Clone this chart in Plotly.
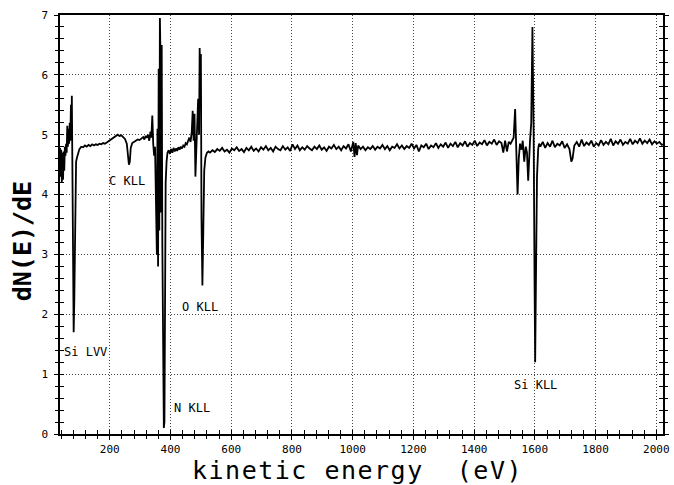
import plotly.graph_objects as go

# ---------------- data ----------------
energy_ev = [
    36, 38, 40, 42, 44, 46, 48, 50, 52, 54, 56, 58, 60, 62, 64, 66, 68, 70, 72, 74, 75, 77, 79, 81, 83, 85, 87, 89, 92, 96,
    100, 106, 112, 118, 124, 130, 136, 142, 148, 154, 160, 166, 172, 178, 184, 190, 196, 202, 208, 214, 220, 226, 232, 238, 244, 250, 256, 260, 263, 266, 269,
    274, 280, 286, 292, 298, 304, 310, 314, 318, 322, 326, 330, 334, 337, 340, 343, 346,
    349, 352, 355, 357, 359, 361, 363, 365, 367, 369, 371, 373, 376, 378, 380, 382, 384, 387, 390,
    394, 398, 402, 406, 410, 414, 418, 422, 426, 430, 434, 438, 442, 446, 450, 454, 458, 462, 466, 470, 473, 476, 479, 482, 485, 488, 491, 494, 496, 498, 500, 502, 505, 508, 511, 515, 520, 525,
    530, 538, 546, 554, 562, 570, 578, 586, 594, 602, 610, 618, 626, 634, 642, 650, 658, 666, 674, 682, 690, 698, 706, 714, 722, 730, 738, 746, 754, 762,
    770, 778, 786, 794, 802, 810, 818, 826, 834, 842, 850, 858, 866, 874, 882, 890, 898, 906, 914, 922, 930, 938, 946, 954, 962, 970, 978, 986, 994,
    1002, 1006, 1010, 1014, 1018, 1026, 1034, 1042, 1050, 1058, 1066, 1074, 1082, 1090, 1098, 1106, 1114, 1122, 1130, 1138, 1146, 1154, 1162, 1170, 1178, 1186, 1194,
    1202, 1210, 1218, 1226, 1234, 1242, 1250, 1258, 1266, 1274, 1282, 1290, 1298, 1306, 1314, 1322, 1330, 1338, 1346, 1354, 1362, 1370, 1378, 1386, 1394,
    1402, 1410, 1418, 1426, 1434, 1442, 1450, 1458, 1466, 1474, 1482, 1490,
    1496, 1502, 1508, 1514, 1520, 1526, 1530, 1535, 1538, 1543, 1547, 1551, 1556, 1560, 1565, 1570, 1574, 1578, 1584, 1588, 1592, 1596, 1599, 1601, 1604, 1607, 1611, 1614,
    1618, 1626, 1634, 1642, 1650, 1658, 1666, 1674, 1682, 1690, 1698, 1706, 1714, 1720, 1724, 1730, 1738, 1746, 1754, 1762, 1770, 1778, 1786, 1794,
    1802, 1810, 1818, 1826, 1834, 1842, 1850, 1858, 1866, 1874, 1882, 1890, 1898, 1906, 1914, 1922, 1930, 1938, 1946, 1954, 1962, 1970, 1978, 1986, 1994,
    2002, 2010, 2018, 2022,
]
dn_de = [
    4.78, 4.30, 4.75, 4.20, 4.70, 4.25, 4.72, 4.40, 4.80, 4.65, 4.85, 4.70, 5.15, 4.80, 5.10, 4.85, 5.20, 4.90, 5.50, 5.05, 5.65, 4.30, 2.60, 1.70, 2.20, 3.40, 4.30, 4.55, 4.62, 4.72,
    4.76, 4.80, 4.79, 4.82, 4.80, 4.83, 4.81, 4.84, 4.82, 4.84, 4.83, 4.85, 4.84, 4.86, 4.85, 4.87, 4.89, 4.91, 4.93, 4.95, 4.97, 5.00, 4.98, 4.99, 4.96, 4.93, 4.85, 4.70, 4.50, 4.55, 4.78,
    4.86, 4.88, 4.90, 4.92, 4.91, 4.94, 4.96, 4.92, 4.98, 4.95, 5.00, 4.90, 5.05, 4.95, 5.32, 4.85, 4.65,
    4.80, 4.10, 3.00, 5.10, 2.80, 6.10, 3.40, 6.95, 6.30, 3.70, 6.50, 3.20, 0.80, 0.10, 0.20, 2.60, 4.20, 4.55, 4.70,
    4.74, 4.68, 4.76, 4.70, 4.78, 4.72, 4.77, 4.73, 4.79, 4.75, 4.80, 4.77, 4.82, 4.80, 4.86, 4.84, 4.90, 4.95, 4.88, 5.05, 5.40, 4.90, 5.35, 4.30, 4.75, 5.10, 5.60, 5.00, 6.45, 5.90, 6.35, 3.60, 2.48, 3.40, 4.40, 4.62, 4.70, 4.72,
    4.70, 4.74, 4.71, 4.76, 4.73, 4.78, 4.72, 4.75, 4.70, 4.77, 4.74, 4.79, 4.73, 4.76, 4.71, 4.78, 4.74, 4.80, 4.73, 4.77, 4.72, 4.79, 4.75, 4.81, 4.74, 4.78, 4.72, 4.80, 4.76, 4.74,
    4.81, 4.75, 4.79, 4.73, 4.84, 4.76, 4.82, 4.74, 4.79, 4.75, 4.81, 4.77, 4.74, 4.80, 4.76, 4.82, 4.75, 4.79, 4.73, 4.80, 4.77, 4.83, 4.76, 4.80, 4.74, 4.81, 4.77, 4.84, 4.72,
    4.88, 4.63, 4.86, 4.66, 4.82, 4.76, 4.80, 4.74, 4.79, 4.76, 4.81, 4.75, 4.80, 4.77, 4.83, 4.76, 4.81, 4.74, 4.80, 4.78, 4.84, 4.77, 4.82, 4.76, 4.81, 4.78, 4.85,
    4.77, 4.83, 4.72, 4.82, 4.79, 4.85, 4.76, 4.82, 4.79, 4.86, 4.78, 4.84, 4.80, 4.87, 4.78, 4.85, 4.81, 4.88, 4.79, 4.86, 4.82, 4.89, 4.80, 4.86, 4.83,
    4.90, 4.81, 4.87, 4.84, 4.91, 4.82, 4.88, 4.85, 4.92, 4.83, 4.89, 4.86,
    4.70, 4.90, 4.72, 4.88, 4.85, 4.92, 4.95, 5.43, 4.90, 4.00, 4.60, 4.85, 4.75, 4.90, 4.55, 4.80, 4.70, 4.23, 4.90, 5.20, 6.80, 5.00, 2.50, 1.20, 2.80, 4.30, 4.77, 4.85,
    4.80, 4.88, 4.78, 4.86, 4.80, 4.90, 4.79, 4.85, 4.82, 4.89, 4.78, 4.84, 4.76, 4.55, 4.60, 4.82, 4.88, 4.80, 4.92, 4.81, 4.87, 4.83, 4.90, 4.80,
    4.86, 4.82, 4.91, 4.83, 4.88, 4.84, 4.93, 4.82, 4.89, 4.85, 4.92, 4.83, 4.88, 4.85, 4.93, 4.84, 4.90, 4.86, 4.94, 4.85, 4.90, 4.86, 4.92, 4.84, 4.89,
    4.85, 4.88, 4.83, 4.84,
]

x_tick_values = [200, 400, 600, 800, 1000, 1200, 1400, 1600, 1800, 2000]
x_tick_labels = ["200", "400", "600", "800", "1000", "1200", "1400", "1600", "1800", "2000"]
y_tick_values = [0, 1, 2, 3, 4, 5, 6, 7]
y_tick_labels = ["0", "1", "2", "3", "4", "5", "6", "7"]

peak_labels = ["Si LVV", "C KLL", "O KLL", "N KLL", "Si KLL"]
peak_label_x = [42, 190, 431, 404, 1525]
peak_label_y = [1.37, 4.22, 2.13, 0.43, 0.82]

x_range = [36, 2022]
y_range = [0, 7]
x_minor_ticks = list(range(40, 2001, 40))
y_minor_ticks = [round(i * 0.2, 1) for i in range(0, 36)]

# ---------------- figure ----------------
MONO = "DejaVu Sans Mono"
fig = go.Figure()
fig.add_trace(go.Scatter(x=energy_ev, y=dn_de, mode="lines",
                         line=dict(color="black", width=1.8), hoverinfo="skip",
                         showlegend=False))
# invisible traces to activate tick-only overlay axes
for xa, ya in (("x2", "y2"), ("x3", "y3")):
    fig.add_trace(go.Scatter(x=[x_range[0]], y=[y_range[0]], xaxis=xa, yaxis=ya,
                             mode="markers", marker=dict(opacity=0), hoverinfo="skip",
                             showlegend=False))

for txt, px, py in zip(peak_labels, peak_label_x, peak_label_y):
    fig.add_annotation(x=px, y=py, text=txt, showarrow=False,
                       xanchor="left", yanchor="middle",
                       font=dict(family=MONO, size=12, color="black"))

fig.add_annotation(xref="paper", yref="paper", x=-0.063, y=0.46, text="dN(E)/dE",
                   textangle=-90, showarrow=False, xanchor="center", yanchor="middle",
                   font=dict(family=MONO, size=25, color="black", weight="bold"))
fig.add_annotation(xref="paper", yref="paper", x=0.494, y=-0.088,
                   text='<span style="letter-spacing:1.5px">kinetic energy  (eV)</span>',
                   showarrow=False, xanchor="center", yanchor="middle",
                   font=dict(family=MONO, size=25, color="black"))

common_tick = dict(tickcolor="black", tickwidth=1.3, ticklen=4)
grid = dict(showgrid=True, gridcolor="#444", griddash="1px,2px", gridwidth=1)
fig.update_layout(
    width=674, height=485,
    margin=dict(l=60, r=11, t=15, b=51, autoexpand=False),
    paper_bgcolor="white", plot_bgcolor="white",
    showlegend=False,
    xaxis=dict(range=x_range, tickmode="array", tickvals=x_tick_values, ticktext=x_tick_labels,
               ticks="outside", **common_tick, automargin=False,
               showline=True, linecolor="black", linewidth=1.5, mirror=True,
               **grid, zeroline=False,
               tickfont=dict(family=MONO, size=11, color="black")),
    yaxis=dict(range=y_range, tickmode="array", tickvals=y_tick_values, ticktext=y_tick_labels,
               ticks="outside", **common_tick, ticklabelstandoff=4, automargin=False,
               showline=True, linecolor="black", linewidth=1.5, mirror="allticks",
               **grid, zeroline=False,
               tickfont=dict(family=MONO, size=11, color="black")),
    xaxis2=dict(range=x_range, overlaying="x", anchor="y2", side="bottom", automargin=False,
                tickmode="array", tickvals=x_minor_ticks, ticks="outside", **common_tick,
                showticklabels=False, showgrid=False, showline=False, zeroline=False),
    yaxis2=dict(range=y_range, overlaying="y", anchor="x2", side="left", automargin=False,
                tickmode="array", tickvals=y_minor_ticks, ticks="outside", **common_tick,
                mirror="allticks",
                showticklabels=False, showgrid=False, showline=False, zeroline=False),
    xaxis3=dict(range=x_range, overlaying="x", anchor="y3", side="bottom", automargin=False,
                tickmode="array", tickvals=x_minor_ticks, ticks="inside", **common_tick,
                showticklabels=False, showgrid=False, showline=False, zeroline=False),
    yaxis3=dict(range=y_range, overlaying="y", anchor="x3", side="left", automargin=False,
                tickmode="array", tickvals=y_minor_ticks, ticks="inside", **common_tick,
                mirror="allticks",
                showticklabels=False, showgrid=False, showline=False, zeroline=False),
)

fig.write_html("out.html", config={"displayModeBar": False},
               post_script="document.body.style.margin='0';document.body.style.padding='0';")
